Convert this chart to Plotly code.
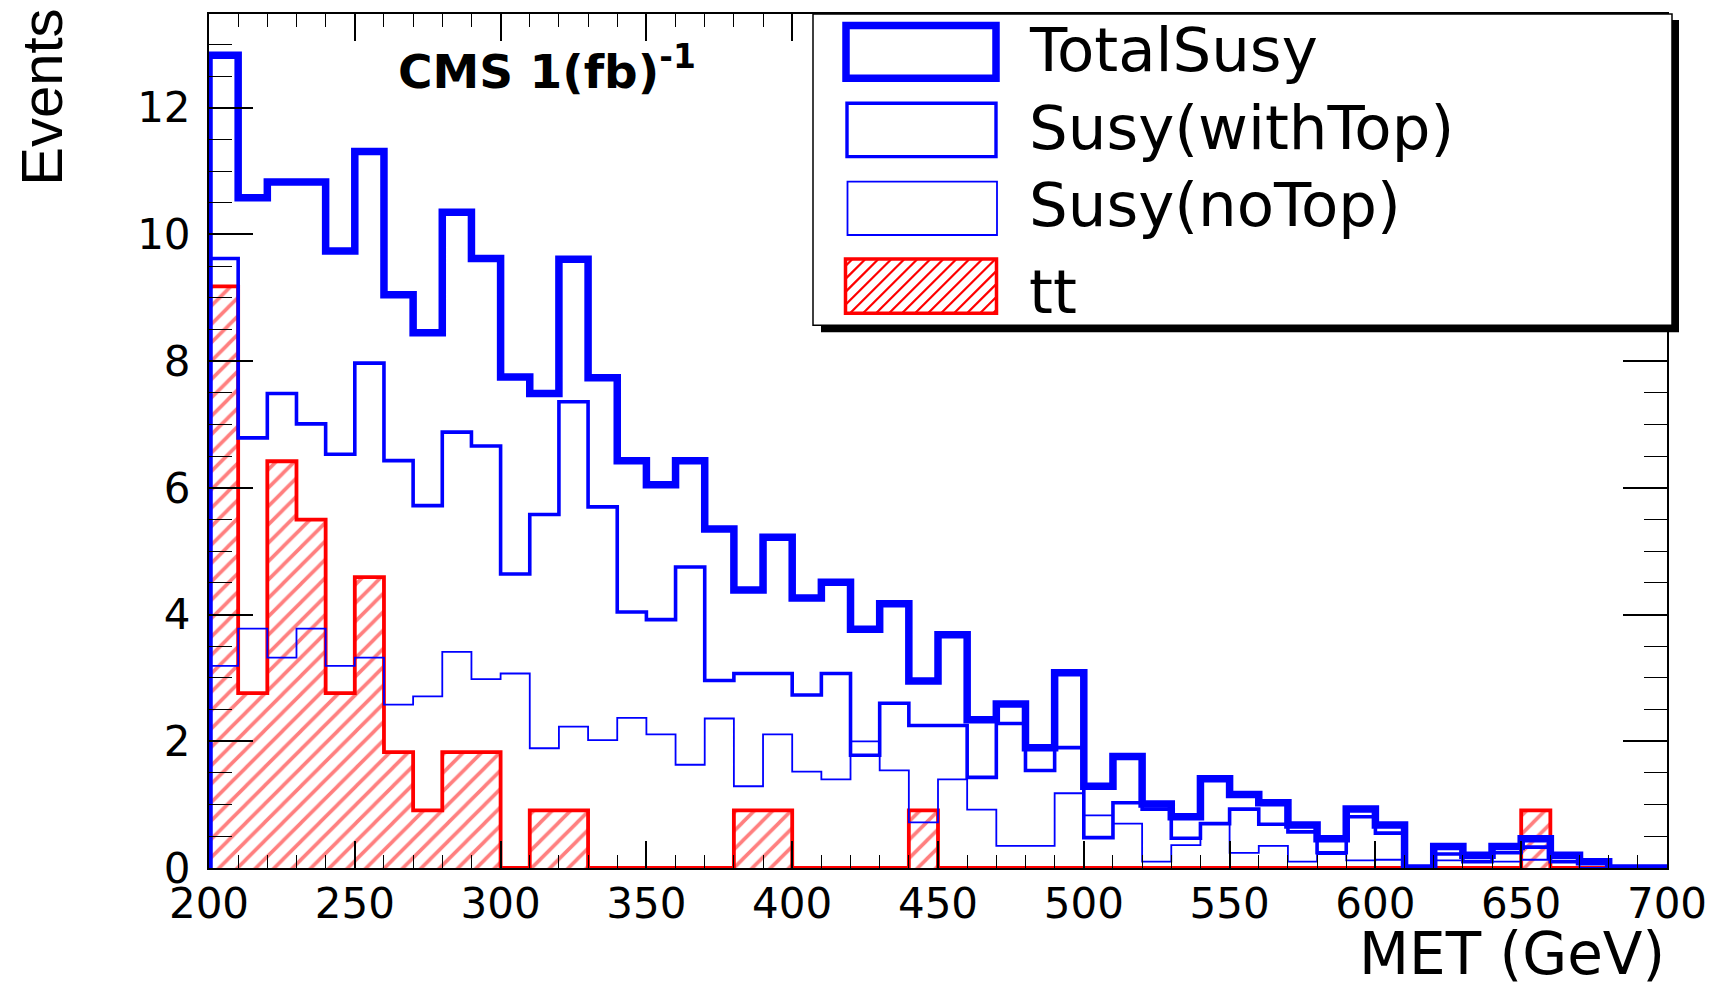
import plotly.graph_objects as go

# ---------------- data (bin low edges in GeV, 10 GeV bins) ----------------
bin_low = [200, 210, 220, 230, 240, 250, 260, 270, 280, 290,
           300, 310, 320, 330, 340, 350, 360, 370, 380, 390,
           400, 410, 420, 430, 440, 450, 460, 470, 480, 490,
           500, 510, 520, 530, 540, 550, 560, 570, 580, 590,
           600, 610, 620, 630, 640, 650, 660, 670, 680, 690]
bin_width = 10

total_susy = [12.83, 10.58, 10.83, 10.83, 9.74, 11.31, 9.05, 8.45, 10.35, 9.62,
              7.75, 7.49, 9.61, 7.74, 6.43, 6.05, 6.43, 5.35, 4.39, 5.22,
              4.26, 4.51, 3.77, 4.17, 2.95, 3.68, 2.34, 2.59, 1.90, 3.08,
              1.29, 1.76, 1.01, 0.81, 1.41, 1.16, 1.03, 0.68, 0.46, 0.93,
              0.68, 0.00, 0.34, 0.20, 0.34, 0.46, 0.20, 0.10, 0.00, 0.00]

susy_with_top = [9.62, 6.79, 7.49, 7.01, 6.53, 7.97, 6.43, 5.72, 6.88, 6.66,
                 4.64, 5.58, 7.36, 5.70, 4.04, 3.92, 4.75, 2.96, 3.07, 3.07,
                 2.73, 3.07, 1.78, 2.60, 2.25, 2.25, 1.43, 2.28, 1.54, 1.90,
                 0.48, 1.03, 0.93, 0.47, 0.70, 0.93, 0.69, 0.57, 0.24, 0.81,
                 0.55, 0.00, 0.22, 0.10, 0.24, 0.33, 0.10, 0.10, 0.00, 0.00]

susy_no_top = [3.19, 3.78, 3.32, 3.78, 3.19, 3.32, 2.58, 2.71, 3.41, 2.98,
               3.07, 1.89, 2.23, 2.02, 2.37, 2.11, 1.63, 2.36, 1.29, 2.11,
               1.52, 1.40, 2.00, 1.54, 0.72, 1.40, 0.92, 0.35, 0.35, 1.18,
               0.83, 0.70, 0.10, 0.36, 0.70, 0.24, 0.35, 0.10, 0.22, 0.12,
               0.13, 0.00, 0.12, 0.10, 0.10, 0.13, 0.10, 0.00, 0.00, 0.00]

ttbar = [9.18, 2.76, 6.42, 5.50, 2.76, 4.59, 1.83, 0.91, 1.83, 1.83,
         0.00, 0.91, 0.91, 0.00, 0.00, 0.00, 0.00, 0.00, 0.91, 0.91,
         0.00, 0.00, 0.00, 0.00, 0.91, 0.00, 0.00, 0.00, 0.00, 0.00,
         0.00, 0.00, 0.00, 0.00, 0.00, 0.00, 0.00, 0.00, 0.00, 0.00,
         0.00, 0.00, 0.00, 0.00, 0.00, 0.91, 0.00, 0.00, 0.00, 0.00]

x_ticks = [200, 250, 300, 350, 400, 450, 500, 550, 600, 650, 700]
y_ticks = [0, 2, 4, 6, 8, 10, 12]
legend_labels = ["TotalSusy", "Susy(withTop)", "Susy(noTop)", "tt"]

# ---------------- geometry ----------------
W, H = 1724, 991
L, R, T, B = 209, 57, 12, 123
PW, PH = W - L - R, H - T - B
BLUE, RED = "#0000FF", "#FF0000"


def px(x):
    return (x - L) / PW


def py(y):
    return (T + PH - y) / PH


def step_xy(vals):
    end = bin_low[-1] + bin_width
    xs = [bin_low[0]] + bin_low + [end, end]
    ys = [0] + list(vals) + [vals[-1], 0]
    return xs, ys


fig = go.Figure()

# tt hatched histogram
xs, ys = step_xy(ttbar)
fig.add_trace(go.Scatter(
    x=xs, y=ys, mode="lines", line=dict(color=RED, width=3.8, shape="hv"),
    fill="tozeroy", fillcolor="rgba(0,0,0,0)",
    fillpattern=dict(shape="/", fgcolor=RED, bgcolor="white", size=13, solidity=0.28),
    name="tt", showlegend=False, hoverinfo="skip"))

for vals, width, name in [(susy_no_top, 1.8, "Susy(noTop)"),
                          (susy_with_top, 3.6, "Susy(withTop)"),
                          (total_susy, 7.5, "TotalSusy")]:
    xs, ys = step_xy(vals)
    fig.add_trace(go.Scatter(
        x=xs, y=ys, mode="lines", line=dict(color=BLUE, width=width, shape="hv"),
        name=name, showlegend=False, hoverinfo="skip"))

tickfont = dict(family="DejaVu Sans", size=42, color="black")
fig.update_layout(
    width=W, height=H,
    margin=dict(l=L, r=R, t=T, b=B, pad=0),
    plot_bgcolor="white", paper_bgcolor="white",
    showlegend=False,
    xaxis=dict(range=[200, 700], tickmode="array", tickvals=x_ticks,
               ticktext=[str(v) for v in x_ticks],
               ticks="inside", ticklen=27, tickwidth=1.6, tickcolor="black",
               showline=True, linecolor="black", linewidth=2, mirror="allticks",
               showgrid=False, zeroline=False, tickfont=tickfont,
               ticklabelstandoff=-2,
               minor=dict(dtick=10, tick0=200, ticks="inside", ticklen=13,
                          tickwidth=1.4, tickcolor="black", showgrid=False)),
    yaxis=dict(range=[0, 13.48], tickmode="array", tickvals=y_ticks,
               ticktext=[str(v) for v in y_ticks],
               ticks="inside", ticklen=44, tickwidth=1.6, tickcolor="black",
               showline=True, linecolor="black", linewidth=2, mirror="allticks",
               showgrid=False, zeroline=False, tickfont=tickfont,
               ticklabelstandoff=8,
               minor=dict(dtick=0.5, tick0=0, ticks="inside", ticklen=23,
                          tickwidth=1.4, tickcolor="black", showgrid=False)),
)

annotations = []
# axis titles
annotations.append(dict(text="MET (GeV)", xref="paper", yref="paper",
                        x=1.0, y=py(990), xanchor="right", yanchor="bottom",
                        showarrow=False,
                        font=dict(family="DejaVu Sans", size=58, color="black")))
annotations.append(dict(text="Events", xref="paper", yref="paper",
                        x=px(42), y=py(96), xanchor="center", yanchor="middle",
                        textangle=-90, showarrow=False,
                        font=dict(family="Liberation Sans", size=58, color="black")))
annotations.append(dict(text="<b>CMS 1(fb)<sup>-1</sup></b>", xref="paper", yref="paper",
                        x=px(396), y=py(66), xanchor="left", yanchor="middle",
                        showarrow=False,
                        font=dict(family="DejaVu Sans", size=47, color="black")))

shapes = []
# legend shadow and box
shapes.append(dict(type="rect", xref="paper", yref="paper", layer="above",
                   x0=px(821), x1=px(1679), y0=py(18), y1=py(331),
                   fillcolor="black", line=dict(width=0)))
shapes.append(dict(type="rect", xref="paper", yref="paper", layer="above",
                   x0=px(813), x1=px(1672), y0=py(12), y1=py(324),
                   fillcolor="white", line=dict(color="black", width=1.5)))

# legend symbols
sym = [((846, 996, 23.5, 76.5), 7.5),
       ((847, 996, 101.5, 155), 3.4),
       ((847.5, 997, 180, 233.5), 1.8)]
for (x0, x1, y0, y1), lw in sym:
    shapes.append(dict(type="rect", xref="paper", yref="paper", layer="above",
                       x0=px(x0), x1=px(x1), y0=py(y0), y1=py(y1),
                       fillcolor="white", line=dict(color=BLUE, width=lw)))

# tt legend symbol: hatch + red outline
hx0, hx1, hy0, hy1 = 846.0, 996.0, 258.0, 311.5
segs = []
c = hx0 + hy0 + 6
while c < hx1 + hy1:
    xa = max(hx0, c - hy1)
    xb = min(hx1, c - hy0)
    if xb > xa:
        segs.append("M {:.5f},{:.5f} L {:.5f},{:.5f}".format(
            px(xa), py(c - xa), px(xb), py(c - xb)))
    c += 13
shapes.append(dict(type="rect", xref="paper", yref="paper", layer="above",
                   x0=px(hx0), x1=px(hx1), y0=py(hy0), y1=py(hy1),
                   fillcolor="white", line=dict(width=0)))
shapes.append(dict(type="path", xref="paper", yref="paper", layer="above",
                   path=" ".join(segs), line=dict(color=RED, width=2.2)))
shapes.append(dict(type="rect", xref="paper", yref="paper", layer="above",
                   x0=px(hx0 - 0.5), x1=px(hx1 + 0.5), y0=py(hy0 - 0.5), y1=py(hy1 + 0.5),
                   fillcolor="rgba(0,0,0,0)", line=dict(color=RED, width=3.5)))

# legend texts
for label, yc in zip(legend_labels, [48, 126, 203, 290]):
    annotations.append(dict(text=label, xref="paper", yref="paper",
                            x=px(1027), y=py(yc), xanchor="left", yanchor="middle",
                            showarrow=False,
                            font=dict(family="DejaVu Sans", size=61, color="black")))

fig.update_layout(shapes=shapes, annotations=annotations)
fig.write_html("out.html")
